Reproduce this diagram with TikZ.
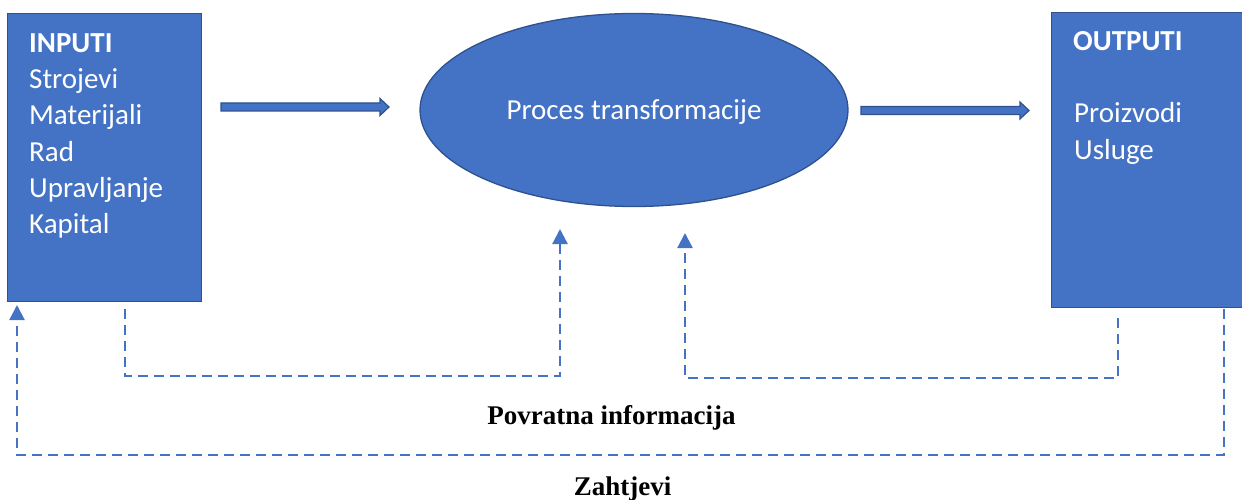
\documentclass[tikz,border=0pt]{standalone}
\usepackage{fontspec}
\setmainfont{Liberation Serif}
\newfontfamily\calfont{Carlito}
\usetikzlibrary{arrows.meta,shapes.geometric}
\definecolor{fillblue}{HTML}{4472C4}
\definecolor{edgeblue}{HTML}{2F528F}
\newcommand\fatarrow[3]{\draw[fatarr] (#1,#3-4) -- (#2-9,#3-4) -- (#2-9,#3-8.5) -- (#2,#3) -- (#2-9,#3+8.5) -- (#2-9,#3+4) -- (#1,#3+4) -- cycle;}
\begin{document}
\begin{tikzpicture}[x=1pt,y=-1pt,
  bluebox/.style={draw=edgeblue, fill=fillblue, line width=1.3pt, inner sep=0pt, anchor=north west},
  boxtext/.style={anchor=base west, text=white, font=\calfont\fontsize{29}{36}\selectfont, inner sep=0pt},
  fatarr/.style={draw=edgeblue, fill=fillblue, line width=1.2pt},
  fb/.style={draw=fillblue, line width=2.2pt, dash pattern=on 10pt off 6pt},
  fbarrow/.style={fb, -{Triangle[width=15pt,length=15pt]}},
  lbl/.style={anchor=base, font=\bfseries\fontsize{27}{30}\selectfont, inner sep=0pt}]
\useasboundingbox (0,0) rectangle (1242,500);
% boxes
\node[bluebox, minimum width=194pt, minimum height=288pt] (in) at (7,13) {};
\node[bluebox, minimum width=220pt, minimum height=295pt] (out) at (1051,12) {};
\node[ellipse, draw=edgeblue, fill=fillblue, line width=1.3pt, minimum width=428pt, minimum height=193pt, inner sep=0pt] (proc) at (634,110) {};
% texts
\node[boxtext] (t1) at (29,53) {\bfseries INPUTI};
\node[boxtext] (t2) at (29,89) {Strojevi};
\node[boxtext] (t3) at (29,125) {Materijali};
\node[boxtext] (t4) at (29,161) {Rad};
\node[boxtext] (t5) at (29,197) {Upravljanje};
\node[boxtext] (t6) at (29,233) {Kapital};
\node[boxtext] (o1) at (1073,51) {\bfseries OUTPUTI};
\node[boxtext] (o2) at (1074,123) {Proizvodi};
\node[boxtext] (o3) at (1074,159) {Usluge};
\node[anchor=base, text=white, font=\calfont\fontsize{29}{30}\selectfont, inner sep=0pt] (pt) at (634,120) {Proces transformacije};
% fat arrows
\fatarrow{221}{389}{107}
\fatarrow{861}{1029}{110.5}
% dashed feedback loops
\coordinate (a0) at (125,309);
\coordinate (a1) at (125,376);
\coordinate (a2) at (560,376);
\coordinate (a3) at (560,229);
\draw[fbarrow] (a0) -- (a1) -- (a2) -- (a3);
\coordinate (b0) at (1118,318);
\coordinate (b1) at (1118,378);
\coordinate (b2) at (685,378);
\coordinate (b3) at (685,233);
\draw[fbarrow] (b0) -- (b1) -- (b2) -- (b3);
\coordinate (c0) at (1224,309);
\coordinate (c1) at (1224,455);
\coordinate (c2) at (17,455);
\coordinate (c3) at (17,305);
\draw[fbarrow] (c0) -- (c1) -- (c2) -- (c3);
% labels
\node[lbl] (l1) at (611.5,424) {Povratna informacija};
\node[lbl] (l2) at (622.5,495) {Zahtjevi};
\end{tikzpicture}
\end{document}
